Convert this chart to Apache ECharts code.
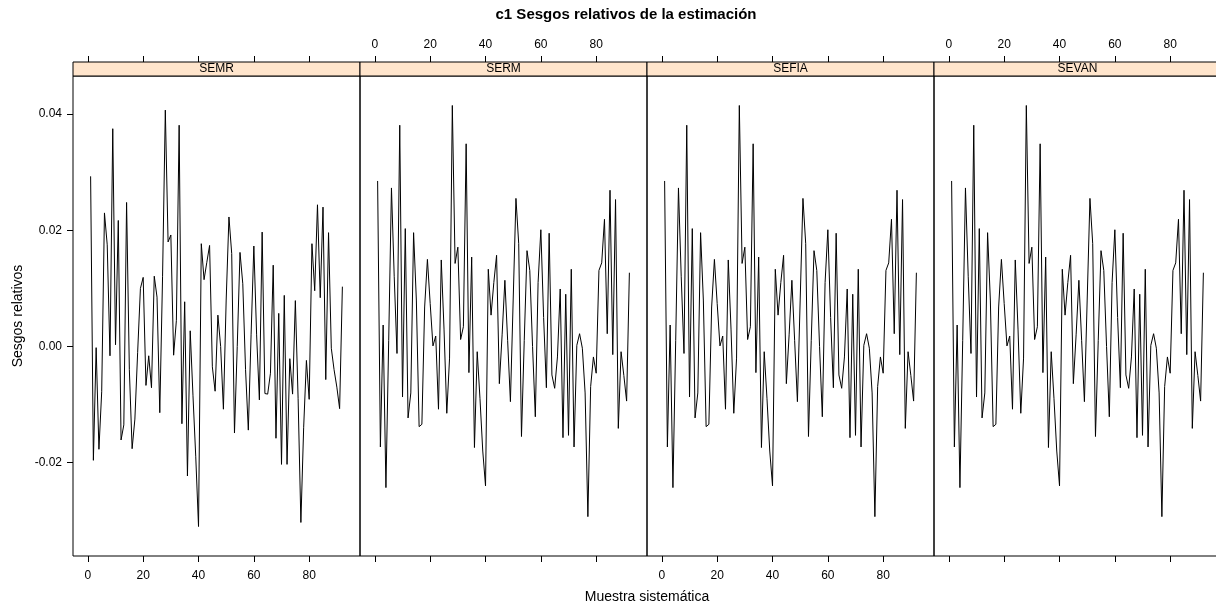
<!DOCTYPE html>
<html>
<head>
<meta charset="utf-8">
<script src="https://cdn.jsdelivr.net/npm/echarts@6/dist/echarts.min.js"></script>
<style>html,body{margin:0;padding:0;background:#fff;overflow:hidden;width:1216px;height:605px;}#c{width:1252px;height:605px;}</style>
</head>
<body>
<div id="c"></div>
<script>
const panelNames = ['SEMR', 'SERM', 'SEFIA', 'SEVAN'];
const xTicks = [0, 20, 40, 60, 80];
const yTicks = [-0.02, 0.00, 0.02, 0.04];

const semr = [0.0293, -0.0196, -0.0002, -0.0177, -0.0078, 0.0230, 0.0175, -0.0016, 0.0375, 0.0003,
 0.0217, -0.0161, -0.0135, 0.0248, -0.0040, -0.0176, -0.0125, -0.0010, 0.0100, 0.0119,
 -0.0067, -0.0016, -0.0071, 0.0121, 0.0085, -0.0114, 0.0120, 0.0407, 0.0180, 0.0192,
 -0.0015, 0.0045, 0.0381, -0.0133, 0.0077, -0.0223, 0.0027, -0.0085, -0.0190, -0.0310,
 0.0177, 0.0115, 0.0145, 0.0174, -0.0035, -0.0077, 0.0054, 0.0000, -0.0108, 0.0080,
 0.0223, 0.0160, -0.0149, 0.0000, 0.0162, 0.0108, -0.0040, -0.0144, 0.0020, 0.0173,
 0.0020, -0.0092, 0.0197, -0.0081, -0.0082, -0.0046, 0.0140, -0.0158, 0.0057, -0.0203,
 0.0088, -0.0203, -0.0021, -0.0082, 0.0079, -0.0090, -0.0303, -0.0140, -0.0024, -0.0091,
 0.0177, 0.0096, 0.0244, 0.0084, 0.0240, -0.0057, 0.0196, -0.0003, -0.0040, -0.0070,
 -0.0107, 0.0103];

const serm = [0.0285, -0.0173, 0.0037, -0.0243, 0.0010, 0.0273, 0.0120, -0.0012, 0.0381, -0.0087,
 0.0203, -0.0123, -0.0080, 0.0196, 0.0080, -0.0138, -0.0134, 0.0068, 0.0150, 0.0074,
 0.0001, 0.0018, -0.0108, 0.0149, 0.0030, -0.0115, -0.0020, 0.0415, 0.0143, 0.0171,
 0.0012, 0.0034, 0.0349, -0.0045, 0.0154, -0.0174, -0.0009, -0.0090, -0.0180, -0.0240,
 0.0133, 0.0054, 0.0110, 0.0157, -0.0064, 0.0020, 0.0114, 0.0010, -0.0095, 0.0080,
 0.0255, 0.0177, -0.0155, 0.0010, 0.0165, 0.0131, 0.0000, -0.0121, 0.0110, 0.0201,
 0.0050, -0.0071, 0.0195, -0.0049, -0.0072, -0.0018, 0.0099, -0.0157, 0.0090, -0.0153,
 0.0133, -0.0173, 0.0002, 0.0022, -0.0003, -0.0080, -0.0293, -0.0069, -0.0018, -0.0046,
 0.0131, 0.0144, 0.0219, 0.0022, 0.0269, -0.0014, 0.0253, -0.0141, -0.0009, -0.0050,
 -0.0094, 0.0127];

const sefia = [0.0285, -0.0173, 0.0037, -0.0243, 0.0010, 0.0273, 0.0120, -0.0012, 0.0381, -0.0087,
 0.0203, -0.0123, -0.0080, 0.0196, 0.0080, -0.0138, -0.0134, 0.0068, 0.0150, 0.0074,
 0.0001, 0.0018, -0.0108, 0.0149, 0.0030, -0.0115, -0.0020, 0.0415, 0.0143, 0.0171,
 0.0012, 0.0034, 0.0349, -0.0045, 0.0154, -0.0174, -0.0009, -0.0090, -0.0180, -0.0240,
 0.0133, 0.0054, 0.0110, 0.0157, -0.0064, 0.0020, 0.0114, 0.0010, -0.0095, 0.0080,
 0.0255, 0.0177, -0.0155, 0.0010, 0.0165, 0.0131, 0.0000, -0.0121, 0.0110, 0.0201,
 0.0050, -0.0071, 0.0195, -0.0049, -0.0072, -0.0018, 0.0099, -0.0157, 0.0090, -0.0153,
 0.0133, -0.0173, 0.0002, 0.0022, -0.0003, -0.0080, -0.0293, -0.0069, -0.0018, -0.0046,
 0.0131, 0.0144, 0.0219, 0.0022, 0.0269, -0.0014, 0.0253, -0.0141, -0.0009, -0.0050,
 -0.0094, 0.0127];

const sevan = [0.0285, -0.0173, 0.0037, -0.0243, 0.0010, 0.0273, 0.0120, -0.0012, 0.0381, -0.0087,
 0.0203, -0.0123, -0.0080, 0.0196, 0.0080, -0.0138, -0.0134, 0.0068, 0.0150, 0.0074,
 0.0001, 0.0018, -0.0108, 0.0149, 0.0030, -0.0115, -0.0020, 0.0415, 0.0143, 0.0171,
 0.0012, 0.0034, 0.0349, -0.0045, 0.0154, -0.0174, -0.0009, -0.0090, -0.0180, -0.0240,
 0.0133, 0.0054, 0.0110, 0.0157, -0.0064, 0.0020, 0.0114, 0.0010, -0.0095, 0.0080,
 0.0255, 0.0177, -0.0155, 0.0010, 0.0165, 0.0131, 0.0000, -0.0121, 0.0110, 0.0201,
 0.0050, -0.0071, 0.0195, -0.0049, -0.0072, -0.0018, 0.0099, -0.0157, 0.0090, -0.0153,
 0.0133, -0.0173, 0.0002, 0.0022, -0.0003, -0.0080, -0.0293, -0.0069, -0.0018, -0.0046,
 0.0131, 0.0144, 0.0219, 0.0022, 0.0269, -0.0014, 0.0253, -0.0141, -0.0009, -0.0050,
 -0.0094, 0.0127];

const panelData = [semr, serm, sefia, sevan];

// lattice-style 7% padding
const nPts = semr.length;
const xPad = 0.07 * (nPts - 1);
const xMin = 1 - xPad, xMax = nPts + xPad;
const allVals = [].concat(semr, serm, sefia, sevan);
const vMin = Math.min.apply(null, allVals), vMax = Math.max.apply(null, allVals);
const yPad = 0.07 * (vMax - vMin);
const yMin = vMin - yPad, yMax = vMax + yPad;

const FONT = 'Liberation Sans, Arial, sans-serif';
const PL = 73, PW = 287, PT = 76, PH = 480, SH = 14;

const grids = [], xAxes = [], yAxes = [], series = [], graphics = [];
panelNames.forEach((name, i) => {
  const left = PL + PW * i;
  grids.push({ left: left, top: PT, width: PW, height: PH, show: true,
    borderColor: '#000', borderWidth: 1, backgroundColor: 'transparent', containLabel: false });
  const bottomLabels = (i % 2 === 0);
  ['bottom', 'top'].forEach(pos => {
    const showLab = pos === 'bottom' ? bottomLabels : !bottomLabels;
    xAxes.push({
      type: 'value', gridIndex: i, position: pos, min: xMin, max: xMax,
      offset: pos === 'top' ? SH : 0,
      axisLine: { show: false, onZero: false }, splitLine: { show: false },
      axisTick: { show: true, inside: false, length: 6, customValues: xTicks, lineStyle: { color: '#000', width: 1 } },
      axisLabel: { show: showLab, customValues: xTicks, margin: pos === 'top' ? 11 : 14, color: '#000', fontSize: 12, fontFamily: FONT,
        formatter: v => String(Math.round(v)) }
    });
  });
  yAxes.push({
    type: 'value', gridIndex: i, min: yMin, max: yMax, position: 'left',
    axisLine: { show: false, onZero: false }, splitLine: { show: false },
    axisTick: { show: i === 0, inside: false, length: 6, customValues: yTicks, lineStyle: { color: '#000', width: 1 } },
    axisLabel: { show: i === 0, customValues: yTicks, margin: 11, color: '#000', fontSize: 12, fontFamily: FONT,
      formatter: v => v.toFixed(2) }
  });
  series.push({
    type: 'line', xAxisIndex: 2 * i, yAxisIndex: i,
    data: panelData[i].map((v, k) => [k + 1, v]),
    showSymbol: false, symbol: 'none', smooth: false,
    lineStyle: { color: '#000', width: 1 }, animation: false, silent: true
  });
  graphics.push({ type: 'rect', shape: { x: left, y: PT - SH, width: PW, height: SH },
    style: { fill: '#FFE5CC', stroke: '#000', lineWidth: 1 }, z: 10 });
  graphics.push({ type: 'text', x: left + PW / 2, y: PT - SH / 2, z: 11,
    style: { text: name, fill: '#000', font: '12px ' + FONT, textAlign: 'center', textVerticalAlign: 'middle' } });
});

graphics.push({ type: 'text', x: 626, y: 15, style: { text: 'c1 Sesgos relativos de la estimación', fill: '#000',
  font: 'bold 15px ' + FONT, textAlign: 'center', textVerticalAlign: 'middle' } });
graphics.push({ type: 'text', x: 647, y: 597, style: { text: 'Muestra sistemática', fill: '#000',
  font: '14px ' + FONT, textAlign: 'center', textVerticalAlign: 'middle' } });
graphics.push({ type: 'text', x: 18, y: PT + PH / 2, rotation: Math.PI / 2, style: { text: 'Sesgos relativos', fill: '#000',
  font: '14px ' + FONT, textAlign: 'center', textVerticalAlign: 'middle' } });

const chart = echarts.init(document.getElementById('c'), null, { renderer: 'canvas', width: 1252, height: 605 });
chart.setOption({
  animation: false,
  backgroundColor: '#fff',
  grid: grids, xAxis: xAxes, yAxis: yAxes, series: series, graphic: graphics
});
</script>
</body>
</html>
